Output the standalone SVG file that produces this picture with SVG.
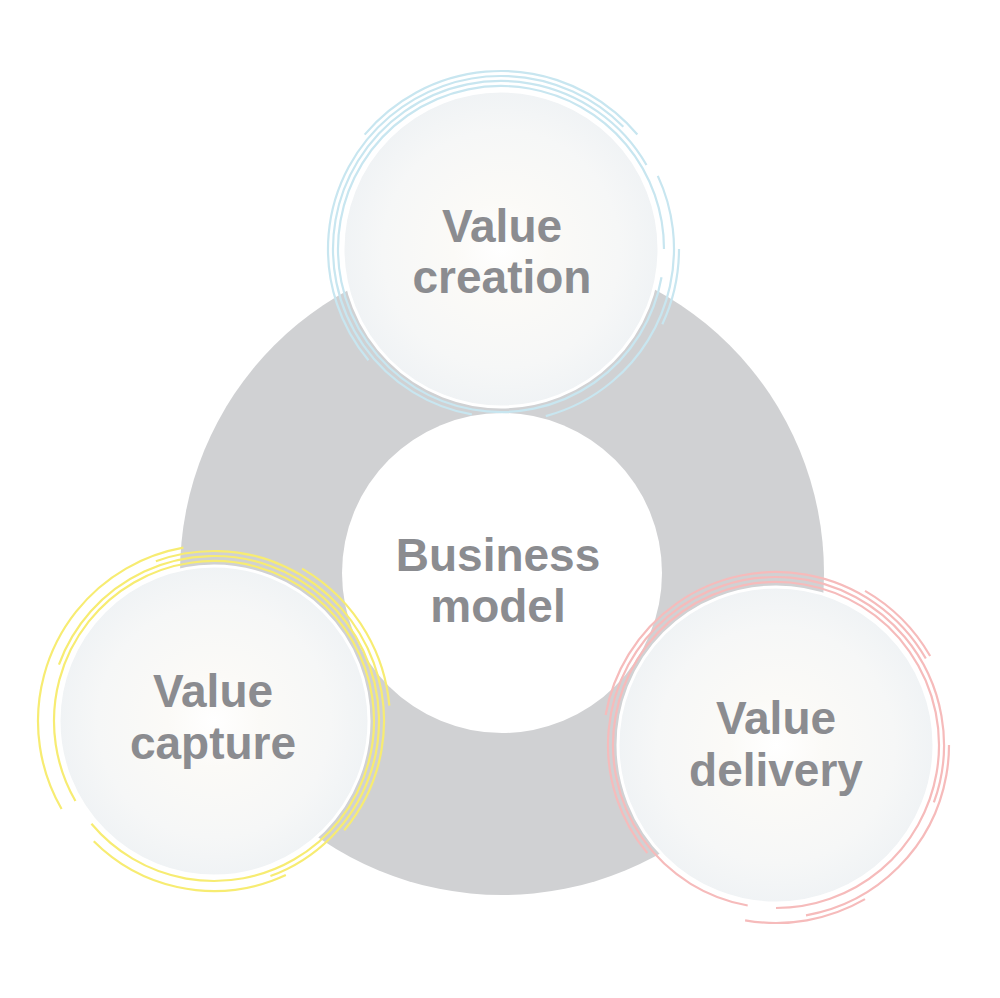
<svg xmlns="http://www.w3.org/2000/svg" width="1000" height="998" viewBox="0 0 1000 998">
<style>
.lbl{font-family:"Liberation Sans",Arial,sans-serif;font-weight:bold;font-size:46px;fill:#8b8c90;text-anchor:middle}
.fill{fill:url(#g);stroke:#ffffff;stroke-width:3}
.arc{fill:none;stroke-width:2.2}
.b{stroke:#c8e6f0}
.y{stroke:#f7ec72}
.p{stroke:#f6bbbb}
</style>
<defs>
<radialGradient id="g" cx="0.5" cy="0.5" r="0.5">
<stop offset="0" stop-color="#ffffff"/>
<stop offset="0.3" stop-color="#fbfaf7"/>
<stop offset="0.75" stop-color="#f6f7f7"/>
<stop offset="1" stop-color="#f0f3f5"/>
</radialGradient>
</defs>
<rect width="1000" height="998" fill="#ffffff"/>
<g id="ring">
<circle cx="502" cy="573" r="322" fill="#d0d1d3"/>
</g>
<g id="business-model">
<circle cx="502" cy="573" r="160" fill="#ffffff"/>
<text class="lbl" x="498" y="571">Business</text>
<text class="lbl" x="498" y="622">model</text>
</g>
<g id="connectors"></g>
<g id="value-creation">
<circle class="fill" cx="501" cy="249" r="158"/>
<circle class="arc b" cx="501" cy="249" r="163" pathLength="360" stroke-dasharray="350 10" transform="rotate(10 501 249)"/>
<circle class="arc b" cx="501" cy="249" r="168" pathLength="360" stroke-dasharray="230 130" transform="rotate(100 501 249)"/>
<circle class="arc b" cx="501" cy="249" r="173" pathLength="360" stroke-dasharray="175 20 100 65" transform="rotate(140 501 249)"/>
<circle class="arc b" cx="501" cy="249" r="178" pathLength="360" stroke-dasharray="100 40 25 195" transform="rotate(220 501 249)"/>
<text class="lbl" x="502" y="242">Value</text>
<text class="lbl" x="502" y="293">creation</text>
</g>
<g id="value-capture">
<circle class="fill" cx="214" cy="721" r="155"/>
<circle class="arc y" cx="214" cy="721" r="160" pathLength="360" stroke-dasharray="350 10" transform="rotate(150 214 721)"/>
<circle class="arc y" cx="214" cy="721" r="165" pathLength="360" stroke-dasharray="230 130" transform="rotate(200 214 721)"/>
<circle class="arc y" cx="214" cy="721" r="170" pathLength="360" stroke-dasharray="150 25 70 115" transform="rotate(250 214 721)"/>
<circle class="arc y" cx="214" cy="721" r="176" pathLength="360" stroke-dasharray="110 40 55 155" transform="rotate(150 214 721)"/>
<text class="lbl" x="213" y="707">Value</text>
<text class="lbl" x="213" y="759">capture</text>
</g>
<g id="value-delivery">
<circle class="fill" cx="776" cy="745" r="158"/>
<circle class="arc p" cx="776" cy="745" r="163" pathLength="360" stroke-dasharray="350 10" transform="rotate(100 776 745)"/>
<circle class="arc p" cx="776" cy="745" r="168" pathLength="360" stroke-dasharray="240 120" transform="rotate(140 776 745)"/>
<circle class="arc p" cx="776" cy="745" r="173" pathLength="360" stroke-dasharray="140 30 80 110" transform="rotate(190 776 745)"/>
<circle class="arc p" cx="776" cy="745" r="178" pathLength="360" stroke-dasharray="40 200 30 90" transform="rotate(60 776 745)"/>
<text class="lbl" x="776" y="734">Value</text>
<text class="lbl" x="776" y="786">delivery</text>
</g>
</svg>
